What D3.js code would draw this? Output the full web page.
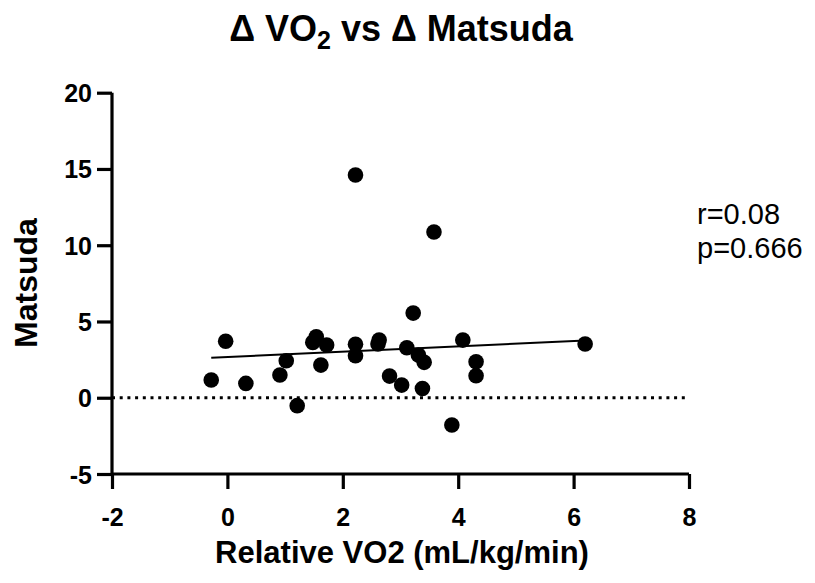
<!DOCTYPE html>
<html>
<head>
<meta charset="utf-8">
<script src="https://cdn.jsdelivr.net/npm/d3@7"></script>
<style>
  body { margin: 0; background: #fff; }
  svg { display: block; }
  text { font-family: "Liberation Sans", Arial, Helvetica, sans-serif; fill: #000; }
</style>
</head>
<body>
<svg id="chart" width="815" height="583"></svg>
<script>
// ---- data ----
const vo2 = [2.22, 3.58, 3.22, -0.03, -0.28, 0.32, 1.02, 0.91, 1.21, 1.54, 1.48, 1.72, 1.62,
             2.22, 2.22, 2.63, 2.61, 3.11, 3.31, 3.41, 2.81, 3.02, 3.38, 3.89, 4.08, 6.20, 4.31, 4.31];
const matsuda = [14.6, 10.87, 5.55, 3.70, 1.16, 0.94, 2.43, 1.49, -0.52, 4.0, 3.63, 3.46, 2.14,
                 3.50, 2.75, 3.78, 3.52, 3.28, 2.80, 2.32, 1.42, 0.83, 0.61, -1.79, 3.78, 3.52, 2.36, 1.44];
const fitX = [-0.28, 6.20];
const fitY = [2.62, 3.75];
const xTicks = [-2, 0, 2, 4, 6, 8];
const yTicks = [-5, 0, 5, 10, 15, 20];
const stats = ["r=0.08", "p=0.666"];

const svg = d3.select("#chart");
const mLeft = 112, mRight = 689, mTop = 92.7, mBottom = 474;
const x = d3.scaleLinear().domain([-2, 8]).range([mLeft, mRight]);
const y = d3.scaleLinear().domain([-5, 20]).range([mBottom, mTop]);
const fmt = d => String(d);

// title
const title = svg.append("text").attr("x", 401).attr("y", 41).attr("text-anchor", "middle")
  .style("font-size", "36px").style("font-weight", "bold");
title.append("tspan").text("Δ VO");
title.append("tspan").text("2").attr("dy", 8).style("font-size", "25px");
title.append("tspan").text(" vs Δ Matsuda").attr("dy", -8);

// zero dotted line
svg.append("line")
  .attr("x1", x(-2)).attr("x2", x(7.95)).attr("y1", y(0)).attr("y2", y(0))
  .attr("stroke", "#000").attr("stroke-width", 3).attr("stroke-dasharray", "3,4.7");

// axes
const xAxis = svg.append("g").attr("transform", `translate(0,${mBottom})`)
  .call(d3.axisBottom(x).tickValues(xTicks).tickSize(15).tickPadding(19).tickFormat(fmt));
const yAxis = svg.append("g").attr("transform", `translate(${mLeft},0)`)
  .call(d3.axisLeft(y).tickValues(yTicks).tickSize(15).tickPadding(5).tickFormat(fmt));
[xAxis, yAxis].forEach(g => {
  g.select(".domain").attr("stroke", "#000").attr("stroke-width", 3.2);
  g.selectAll(".tick line").attr("stroke", "#000").attr("stroke-width", 3.2);
  g.selectAll(".tick text").style("font-size", "25px").style("font-weight", "bold")
    .style("font-family", '"Liberation Sans", Arial, sans-serif').attr("fill", "#000");
});
xAxis.select(".domain").attr("d", `M${mLeft},0H${mRight}`);
yAxis.select(".domain").attr("d", `M0,${mBottom}V${mTop}`);
yAxis.selectAll(".tick text").attr("dy", "0.36em");
xAxis.selectAll(".tick text").attr("dy", "0.71em");

// regression line
svg.append("line")
  .attr("x1", x(fitX[0])).attr("x2", x(fitX[1]))
  .attr("y1", y(fitY[0])).attr("y2", y(fitY[1]))
  .attr("stroke", "#000").attr("stroke-width", 2);

// points
svg.append("g").selectAll("circle")
  .data(vo2.map((v, i) => [v, matsuda[i]]))
  .join("circle")
  .attr("cx", d => x(d[0])).attr("cy", d => y(d[1])).attr("r", 7.8).attr("fill", "#000");

// axis titles
svg.append("text").attr("x", 402).attr("y", 563).attr("text-anchor", "middle")
  .style("font-size", "31px").style("font-weight", "bold").text("Relative VO2 (mL/kg/min)");
svg.append("text").attr("transform", "translate(37,283) rotate(-90)").attr("text-anchor", "middle")
  .style("font-size", "32px").style("font-weight", "bold").text("Matsuda");

// stats
svg.append("g").selectAll("text").data(stats).join("text")
  .attr("x", 697).attr("y", (d, i) => 224 + i * 34)
  .style("font-size", "29px").text(d => d);
</script>
</body>
</html>
